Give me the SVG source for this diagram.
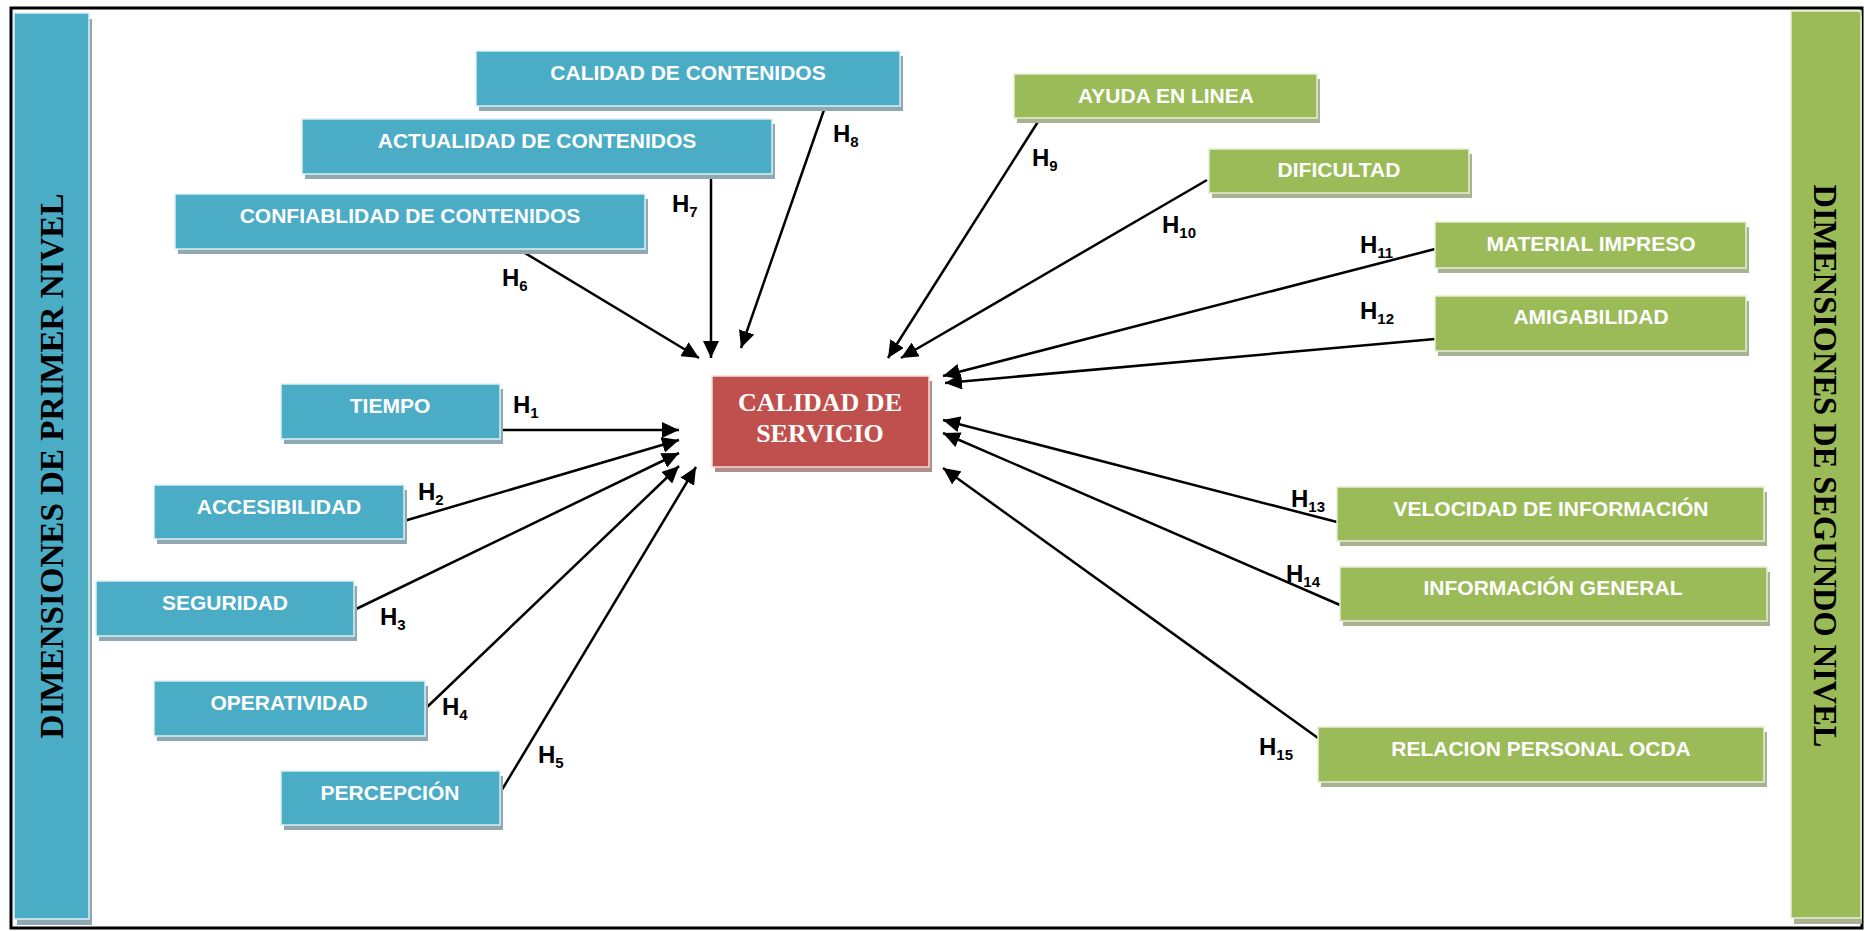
<svg xmlns="http://www.w3.org/2000/svg" width="1865" height="931" viewBox="0 0 1865 931">
  <style>
    .blue { fill: #4BACC6; stroke: #DDEFF4; stroke-width: 1.5; }
    .blue-sh { fill: #8FA9B2; }
    .green { fill: #9BBB59; stroke: #E6EED6; stroke-width: 1.5; }
    .green-sh { fill: #A8B393; }
    .red { fill: #C0504D; stroke: #F2DCDB; stroke-width: 1.5; }
    .red-sh { fill: #B58C8C; }
    .lbl { font-family: "Liberation Sans", Arial, sans-serif; font-weight: bold; font-size: 21px; fill: #FFFFFF; text-anchor: middle; }
    .side { font-family: "Liberation Serif", "Times New Roman", serif; font-weight: bold; font-size: 34px; fill: #000000; text-anchor: middle; }
    .core { font-family: "Liberation Serif", "Times New Roman", serif; font-weight: bold; font-size: 26px; fill: #FFFFFF; text-anchor: middle; }
    .h { font-family: "Liberation Sans", Arial, sans-serif; font-weight: bold; font-size: 24px; fill: #000000; }
    .h tspan { font-size: 15px; }
    .conn line { stroke: #000000; stroke-width: 2.5; marker-end: url(#arrow); }
  </style>
  <defs>
    <marker id="arrow" markerUnits="userSpaceOnUse" markerWidth="18" markerHeight="16" refX="17" refY="8" orient="auto">
      <path d="M0,0 L17,8 L0,16 Z" fill="#000000"/>
    </marker>
  </defs>

  <rect width="1865" height="931" fill="#FFFFFF"/>

  <!-- outer frame -->
  <rect x="11" y="8" width="1851" height="920" fill="none" stroke="#000000" stroke-width="3"/>

  <!-- side bars -->
  <g id="bar-primer-nivel">
    <rect class="blue-sh" x="17" y="19" width="75" height="906"/>
    <rect class="blue" x="14" y="13" width="75" height="906"/>
    <text class="side" transform="translate(63,466) rotate(-90)" textLength="545" lengthAdjust="spacingAndGlyphs">DIMENSIONES DE PRIMER NIVEL</text>
  </g>
  <g id="bar-segundo-nivel">
    <rect class="green-sh" x="1794" y="17" width="68" height="907"/>
    <rect class="green" x="1791" y="11" width="70" height="907"/>
    <text class="side" transform="translate(1814,466) rotate(90)" textLength="563" lengthAdjust="spacingAndGlyphs">DIMENSIONES DE SEGUNDO NIVEL</text>
  </g>

  <!-- connectors -->
  <g id="connectors" class="conn">
    <line x1="500" y1="430" x2="679" y2="430"/>
    <line x1="404" y1="521" x2="679" y2="440"/>
    <line x1="354" y1="610" x2="679" y2="453"/>
    <line x1="425" y1="709" x2="679" y2="466"/>
    <line x1="500" y1="793" x2="696" y2="467"/>
    <line x1="520" y1="250" x2="699" y2="358"/>
    <line x1="711" y1="174" x2="711" y2="358"/>
    <line x1="825" y1="107" x2="741" y2="348"/>
    <line x1="1041" y1="117" x2="888" y2="358"/>
    <line x1="1207" y1="180" x2="901" y2="358"/>
    <line x1="1435" y1="249" x2="943" y2="376"/>
    <line x1="1435" y1="339" x2="945" y2="383"/>
    <line x1="1337" y1="522" x2="943" y2="420"/>
    <line x1="1340" y1="605" x2="943" y2="433"/>
    <line x1="1318" y1="738" x2="943" y2="468"/>
  </g>

  <!-- hypothesis labels -->
  <g id="hypotheses">
    <text class="h" x="513" y="413">H<tspan dy="5">1</tspan></text>
    <text class="h" x="418" y="500">H<tspan dy="5">2</tspan></text>
    <text class="h" x="380" y="625">H<tspan dy="5">3</tspan></text>
    <text class="h" x="442" y="715">H<tspan dy="5">4</tspan></text>
    <text class="h" x="538" y="763">H<tspan dy="5">5</tspan></text>
    <text class="h" x="502" y="286">H<tspan dy="5">6</tspan></text>
    <text class="h" x="672" y="212">H<tspan dy="5">7</tspan></text>
    <text class="h" x="833" y="142">H<tspan dy="5">8</tspan></text>
    <text class="h" x="1032" y="166">H<tspan dy="5">9</tspan></text>
    <text class="h" x="1162" y="233">H<tspan dy="5">10</tspan></text>
    <text class="h" x="1360" y="253">H<tspan dy="5">11</tspan></text>
    <text class="h" x="1360" y="319">H<tspan dy="5">12</tspan></text>
    <text class="h" x="1291" y="507">H<tspan dy="5">13</tspan></text>
    <text class="h" x="1286" y="582">H<tspan dy="5">14</tspan></text>
    <text class="h" x="1259" y="755">H<tspan dy="5">15</tspan></text>
  </g>

  <!-- central construct -->
  <g id="calidad-de-servicio">
    <rect class="red-sh" x="715" y="381" width="217" height="91"/>
    <rect class="red" x="712" y="376" width="217" height="91"/>
    <text class="core" x="820" y="411">CALIDAD DE</text>
    <text class="core" x="820" y="442">SERVICIO</text>
  </g>

  <!-- first-level dimensions -->
  <g id="calidad-contenidos">
    <rect class="blue-sh" x="479" y="56" width="424" height="55"/>
    <rect class="blue" x="476" y="51" width="424" height="55"/>
    <text class="lbl" x="688" y="80">CALIDAD DE CONTENIDOS</text>
  </g>
  <g id="actualidad-contenidos">
    <rect class="blue-sh" x="305" y="124" width="470" height="55"/>
    <rect class="blue" x="302" y="119" width="470" height="55"/>
    <text class="lbl" x="537" y="148">ACTUALIDAD DE CONTENIDOS</text>
  </g>
  <g id="confiablidad-contenidos">
    <rect class="blue-sh" x="178" y="199" width="470" height="55"/>
    <rect class="blue" x="175" y="194" width="470" height="55"/>
    <text class="lbl" x="410" y="223">CONFIABLIDAD DE CONTENIDOS</text>
  </g>
  <g id="tiempo">
    <rect class="blue-sh" x="284" y="389" width="219" height="55"/>
    <rect class="blue" x="281" y="384" width="219" height="55"/>
    <text class="lbl" x="390" y="413">TIEMPO</text>
  </g>
  <g id="accesibilidad">
    <rect class="blue-sh" x="157" y="490" width="250" height="54"/>
    <rect class="blue" x="154" y="485" width="250" height="54"/>
    <text class="lbl" x="279" y="514">ACCESIBILIDAD</text>
  </g>
  <g id="seguridad">
    <rect class="blue-sh" x="99" y="586" width="258" height="55"/>
    <rect class="blue" x="96" y="581" width="258" height="55"/>
    <text class="lbl" x="225" y="610">SEGURIDAD</text>
  </g>
  <g id="operatividad">
    <rect class="blue-sh" x="157" y="686" width="271" height="55"/>
    <rect class="blue" x="154" y="681" width="271" height="55"/>
    <text class="lbl" x="289" y="710">OPERATIVIDAD</text>
  </g>
  <g id="percepcion">
    <rect class="blue-sh" x="284" y="776" width="219" height="54"/>
    <rect class="blue" x="281" y="771" width="219" height="54"/>
    <text class="lbl" x="390" y="800">PERCEPCIÓN</text>
  </g>

  <!-- second-level dimensions -->
  <g id="ayuda-en-linea">
    <rect class="green-sh" x="1017" y="79" width="303" height="44"/>
    <rect class="green" x="1014" y="74" width="303" height="44"/>
    <text class="lbl" x="1166" y="103">AYUDA EN LINEA</text>
  </g>
  <g id="dificultad">
    <rect class="green-sh" x="1212" y="154" width="260" height="44"/>
    <rect class="green" x="1209" y="149" width="260" height="44"/>
    <text class="lbl" x="1339" y="177">DIFICULTAD</text>
  </g>
  <g id="material-impreso">
    <rect class="green-sh" x="1438" y="227" width="311" height="46"/>
    <rect class="green" x="1435" y="222" width="311" height="46"/>
    <text class="lbl" x="1591" y="251">MATERIAL IMPRESO</text>
  </g>
  <g id="amigabilidad">
    <rect class="green-sh" x="1438" y="301" width="311" height="55"/>
    <rect class="green" x="1435" y="296" width="311" height="55"/>
    <text class="lbl" x="1591" y="324">AMIGABILIDAD</text>
  </g>
  <g id="velocidad-informacion">
    <rect class="green-sh" x="1340" y="492" width="427" height="54"/>
    <rect class="green" x="1337" y="487" width="427" height="54"/>
    <text class="lbl" x="1551" y="516">VELOCIDAD DE INFORMACIÓN</text>
  </g>
  <g id="informacion-general">
    <rect class="green-sh" x="1343" y="572" width="427" height="54"/>
    <rect class="green" x="1340" y="567" width="427" height="54"/>
    <text class="lbl" x="1553" y="595">INFORMACIÓN GENERAL</text>
  </g>
  <g id="relacion-personal">
    <rect class="green-sh" x="1321" y="732" width="446" height="55"/>
    <rect class="green" x="1318" y="727" width="446" height="55"/>
    <text class="lbl" x="1541" y="756">RELACION PERSONAL OCDA</text>
  </g>
</svg>
